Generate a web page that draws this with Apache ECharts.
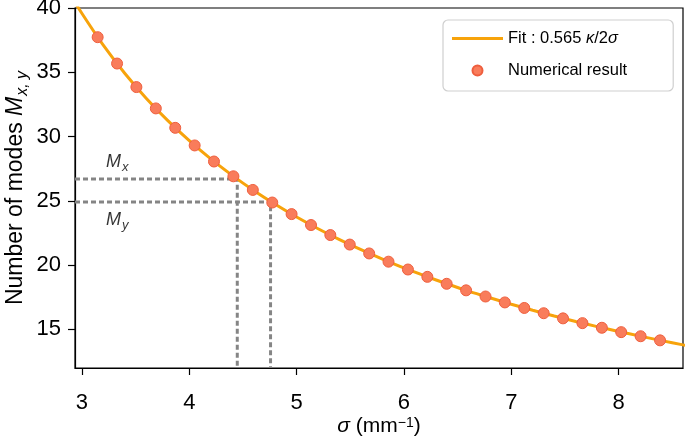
<!DOCTYPE html>
<html>
<head>
<meta charset="utf-8">
<script src="https://cdn.jsdelivr.net/npm/echarts@6/dist/echarts.min.js"></script>
<style>html,body{margin:0;padding:0;background:#fff;}#c{width:685px;height:437px;}</style>
</head>
<body>
<div id="c"></div>
<script>
// ---- data ----
const sigmaPoints = [3.146, 3.327, 3.507, 3.688, 3.869, 4.050, 4.230, 4.411, 4.592, 4.773,
  4.953, 5.134, 5.314, 5.495, 5.676, 5.856, 6.037, 6.218, 6.398, 6.579,
  6.760, 6.940, 7.121, 7.302, 7.482, 7.663, 7.844, 8.024, 8.205, 8.386];
const modesPoints = [37.73, 35.68, 33.85, 32.19, 30.68, 29.31, 28.06, 26.91, 25.85, 24.87,
  23.97, 23.12, 22.34, 21.60, 20.91, 20.27, 19.66, 19.09, 18.55, 18.04,
  17.56, 17.10, 16.67, 16.26, 15.86, 15.49, 15.13, 14.79, 14.47, 14.15];
const sigmaFit = [2.9, 3.0, 3.2, 3.4, 3.6, 3.8, 4.0, 4.2, 4.4, 4.6, 4.8, 5.0, 5.2, 5.4, 5.6,
  5.8, 6.0, 6.2, 6.4, 6.6, 6.8, 7.0, 7.2, 7.4, 7.6, 7.8, 8.0, 8.2, 8.4, 8.6, 8.7];
const modesFit = [40.93, 39.57, 37.09, 34.91, 32.97, 31.24, 29.68, 28.26, 26.98, 25.80, 24.73,
  23.74, 22.83, 21.98, 21.20, 20.47, 19.78, 19.15, 18.55, 17.98, 17.46, 16.96, 16.49, 16.04,
  15.62, 15.22, 14.84, 14.48, 14.13, 13.80, 13.64];
const Mx = {sigma: 4.447, modes: 26.7};
const My = {sigma: 4.757, modes: 24.92};
const xTicks = [3, 4, 5, 6, 7, 8];
const yTicks = [15, 20, 25, 30, 35, 40];
const xRange = [2.935, 8.6];
const yRange = [12, 40];
const annotations = [
  {text: 'x', sigma: 3.225, modes: 28.0},
  {text: 'y', sigma: 3.225, modes: 23.5}
];

const FONT = 'Liberation Sans, Arial, Helvetica, sans-serif';
const fitData = sigmaFit.map((s, i) => [s, modesFit[i]]);
const numData = sigmaPoints.map((s, i) => [s, modesPoints[i]]);
const gray = '#858585';
const dashStyle = {color: gray, width: 3, type: [5, 3]};
const ORANGE = '#F7A30B';

const chart = echarts.init(document.getElementById('c'), null, {renderer: 'canvas'});
chart.setOption({
  animation: false,
  textStyle: {fontFamily: FONT},
  grid: {left: 75, right: 2, top: 8, bottom: 69, containLabel: false, outerBoundsMode: 'none',
    show: true, borderColor: '#000', borderWidth: 1.2, backgroundColor: 'transparent'},
  legend: {
    orient: 'vertical', left: 443, top: 20,
    padding: [10, 46, 12, 9],
    itemWidth: 51, itemHeight: 10, itemGap: 15,
    backgroundColor: '#fff', borderColor: '#cfcfcf', borderWidth: 1.2, borderRadius: 5,
    data: [
      {name: 'fit', icon: 'path://M0,0h17v1h-17z', itemStyle: {color: ORANGE}},
      {name: 'num', icon: 'circle'}
    ],
    formatter: function (n) {
      return n === 'fit' ? '{t|Fit : 0.565 }{i|κ}{t|/2}{i|σ}' : '{t|Numerical result}';
    },
    textStyle: {
      fontFamily: FONT, color: '#000',
      rich: {
        t: {fontSize: 16.5, fontFamily: FONT, color: '#000'},
        i: {fontSize: 16.5, fontFamily: FONT, fontStyle: 'italic', color: '#000'}
      }
    }
  },
  xAxis: {
    type: 'value', min: xRange[0], max: xRange[1],
    axisLine: {show: true, onZero: false, lineStyle: {color: '#000', width: 1.2}},
    axisTick: {show: true, length: 7, lineStyle: {color: '#000', width: 1.2}, customValues: xTicks},
    axisLabel: {fontSize: 22, color: '#000', margin: 24, fontFamily: FONT, customValues: xTicks},
    splitLine: {show: false},
    name: '{i|σ}{t| (mm}{s|−1}{t|)}',
    nameLocation: 'middle', nameGap: 48, nameMoveOverlap: false,
    nameTextStyle: {
      rich: {
        t: {fontSize: 21, fontFamily: FONT, color: '#000', lineHeight: 21, verticalAlign: 'bottom'},
        i: {fontSize: 21, fontFamily: FONT, color: '#000', fontStyle: 'italic', lineHeight: 21, verticalAlign: 'bottom'},
        s: {fontSize: 14, fontFamily: FONT, color: '#000', lineHeight: 14, padding: [0, 0, 12, 0], verticalAlign: 'top'}
      }
    }
  },
  yAxis: {
    type: 'value', min: yRange[0], max: yRange[1],
    axisLine: {show: true, onZero: false, lineStyle: {color: '#000', width: 1.2}},
    axisTick: {show: true, length: 7, lineStyle: {color: '#000', width: 1.2}, customValues: yTicks},
    axisLabel: {fontSize: 22, color: '#000', margin: 14, fontFamily: FONT, customValues: yTicks},
    splitLine: {show: false},
    name: '{t|Number of modes }{i|M}{s|x, y}',
    nameLocation: 'middle', nameGap: 48, nameMoveOverlap: false,
    nameTextStyle: {
      rich: {
        t: {fontSize: 23, fontFamily: FONT, color: '#000', lineHeight: 23, verticalAlign: 'top'},
        i: {fontSize: 23, fontFamily: FONT, color: '#000', fontStyle: 'italic', lineHeight: 23, verticalAlign: 'top'},
        s: {fontSize: 16, fontFamily: FONT, color: '#000', fontStyle: 'italic', lineHeight: 16, padding: [11, 0, 0, 1], verticalAlign: 'top'}
      }
    }
  },
  series: [
    {
      type: 'line', name: 'mxGuide', silent: true, symbol: 'none', z: 1,
      data: [[xRange[0], Mx.modes], [Mx.sigma, Mx.modes], [Mx.sigma, yRange[0]]],
      lineStyle: dashStyle
    },
    {
      type: 'line', name: 'myGuide', silent: true, symbol: 'none', z: 1,
      data: [[xRange[0], My.modes], [My.sigma, My.modes], [My.sigma, yRange[0]]],
      lineStyle: dashStyle
    },
    {
      type: 'line', name: 'fit', symbol: 'none', smooth: 0.3, clip: true, z: 2,
      data: fitData,
      itemStyle: {color: ORANGE},
      lineStyle: {color: ORANGE, width: 3}
    },
    {
      type: 'scatter', name: 'num', symbol: 'circle', symbolSize: 11, z: 3,
      data: numData,
      itemStyle: {color: '#F97C5B', borderColor: '#EE5E3E', borderWidth: 1, opacity: 1}
    },
    {
      type: 'scatter', name: 'annot', silent: true, symbolSize: 0, z: 4,
      data: annotations.map(a => ({value: [a.sigma, a.modes], sub: a.text})),
      label: {
        show: true, position: 'inside', align: 'left', verticalAlign: 'middle',
        formatter: p => '{m|M}{s|' + p.data.sub + '}',
        rich: {
          m: {fontSize: 18, fontFamily: FONT, fontStyle: 'italic', color: '#000', lineHeight: 18, verticalAlign: 'top'},
          s: {fontSize: 13, fontFamily: FONT, fontStyle: 'italic', color: '#000', lineHeight: 13, padding: [8, 0, 0, 1], verticalAlign: 'top'}
        }
      }
    }
  ]
});
</script>
</body>
</html>
